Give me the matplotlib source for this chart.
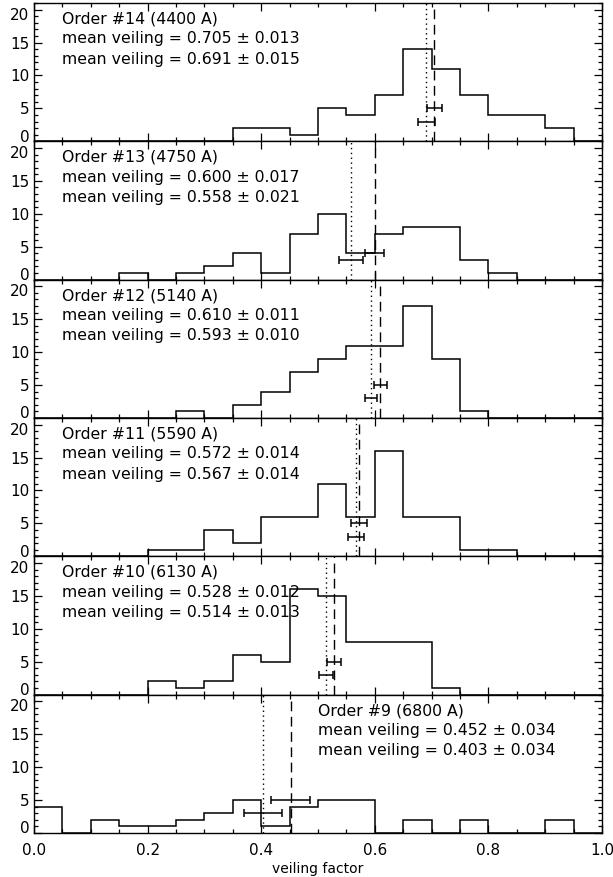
import numpy as np
import matplotlib.pyplot as plt
from matplotlib.ticker import MultipleLocator
from matplotlib.transforms import ScaledTranslation

# bin edges of the veiling histograms (0.05 wide)
edges = np.round(np.arange(0, 1.0001, 0.05), 2)

# counts per bin, one list per echelle order (20 bins from 0.0 to 1.0)
counts_14 = [0, 0, 0, 0, 0, 0, 0, 2, 2, 1, 5, 4, 7, 14, 11, 7, 4, 4, 2, 0]
counts_13 = [0, 0, 0, 1, 0, 1, 2, 4, 1, 7, 10, 4, 7, 8, 8, 3, 1, 0, 0, 0]
counts_12 = [0, 0, 0, 0, 0, 1, 0, 2, 4, 7, 9, 11, 11, 17, 9, 1, 0, 0, 0, 0]
counts_11 = [0, 0, 0, 0, 1, 1, 4, 2, 6, 6, 11, 6, 16, 6, 6, 1, 1, 0, 0, 0]
counts_10 = [0, 0, 0, 0, 2, 1, 2, 6, 5, 16, 15, 8, 8, 8, 1, 0, 0, 0, 0, 0]
counts_9 = [4, 0, 2, 1, 1, 2, 3, 5, 1, 4, 5, 5, 0, 2, 0, 2, 0, 0, 2, 0]

orders = ["#14", "#13", "#12", "#11", "#10", "#9"]
wavelengths = [4400, 4750, 5140, 5590, 6130, 6800]
counts = [counts_14, counts_13, counts_12, counts_11, counts_10, counts_9]

# two mean veiling estimates with errors
mean1 = [0.705, 0.600, 0.610, 0.572, 0.528, 0.452]
err1 = [0.013, 0.017, 0.011, 0.014, 0.012, 0.034]
mean2 = [0.691, 0.558, 0.593, 0.567, 0.514, 0.403]
err2 = [0.015, 0.021, 0.010, 0.014, 0.013, 0.034]
# height at which the error bars are drawn
bar_y1 = [5, 4, 5, 5, 5, 5]
bar_y2 = [3, 3, 3, 3, 3, 3]

fs = 11
plt.rcParams['font.family'] = 'DejaVu Sans'

fig = plt.figure(figsize=(6.13, 8.77), dpi=100)
left, right = 34 / 613, 602 / 613
top, bottom = 1 - 3 / 877, 1 - 833 / 877
h = (top - bottom) / 6

for i in range(6):
    ax = fig.add_axes([left, top - (i + 1) * h, right - left, h])
    ax.stairs(counts[i], edges, color='k', lw=1.1, baseline=0)
    ax.axvline(mean1[i], color='k', lw=1, ls=(0, (7, 4)))
    ax.axvline(mean2[i], color='k', lw=1, ls=(0, (1, 2.5)))
    ax.errorbar(mean1[i], bar_y1[i], xerr=err1[i], fmt='none', ecolor='k',
                elinewidth=1.1, capsize=3, capthick=1.1)
    ax.errorbar(mean2[i], bar_y2[i], xerr=err2[i], fmt='none', ecolor='k',
                elinewidth=1.1, capsize=3, capthick=1.1)

    tx = 0.5 if i == 5 else 0.05
    lines = ["Order %s (%d A)" % (orders[i], wavelengths[i]),
             "mean veiling = %.3f ± %.3f" % (mean1[i], err1[i]),
             "mean veiling = %.3f ± %.3f" % (mean2[i], err2[i])]
    for ly, s in zip([0.885, 0.74, 0.595], lines):
        ax.text(tx, ly, s, transform=ax.transAxes, fontsize=11.3,
                va='center', ha='left')

    ax.set_xlim(0, 1)
    ax.set_ylim(0, 21)
    ax.xaxis.set_major_locator(MultipleLocator(0.2))
    ax.xaxis.set_minor_locator(MultipleLocator(0.05))
    ax.set_yticks([0, 5, 10, 15, 20])
    ax.yaxis.set_minor_locator(MultipleLocator(1))
    ax.tick_params(which='both', direction='in', top=True, right=True,
                   labelsize=fs, width=0.9)
    ax.tick_params(which='major', length=6)
    ax.tick_params(which='minor', length=3)
    for sp in ax.spines.values():
        sp.set_linewidth(1)

    # keep the 0 and 20 labels inside the panel, as in the original
    ylabels = ax.get_yticklabels()
    ylabels[0].set_transform(ylabels[0].get_transform()
                             + ScaledTranslation(0, 4 / 72, fig.dpi_scale_trans))
    ylabels[-1].set_transform(ylabels[-1].get_transform()
                              + ScaledTranslation(0, -3 / 72, fig.dpi_scale_trans))

    if i < 5:
        ax.tick_params(labelbottom=False)
    else:
        ax.set_xticks(np.arange(0, 1.01, 0.2))
        ax.set_xticklabels(["0.0", "0.2", "0.4", "0.6", "0.8", "1.0"])
        ax.tick_params(axis='x', pad=7)
        ax.set_xlabel("veiling factor", fontsize=fs - 1, labelpad=3)

fig.savefig("out.png", dpi=100)
